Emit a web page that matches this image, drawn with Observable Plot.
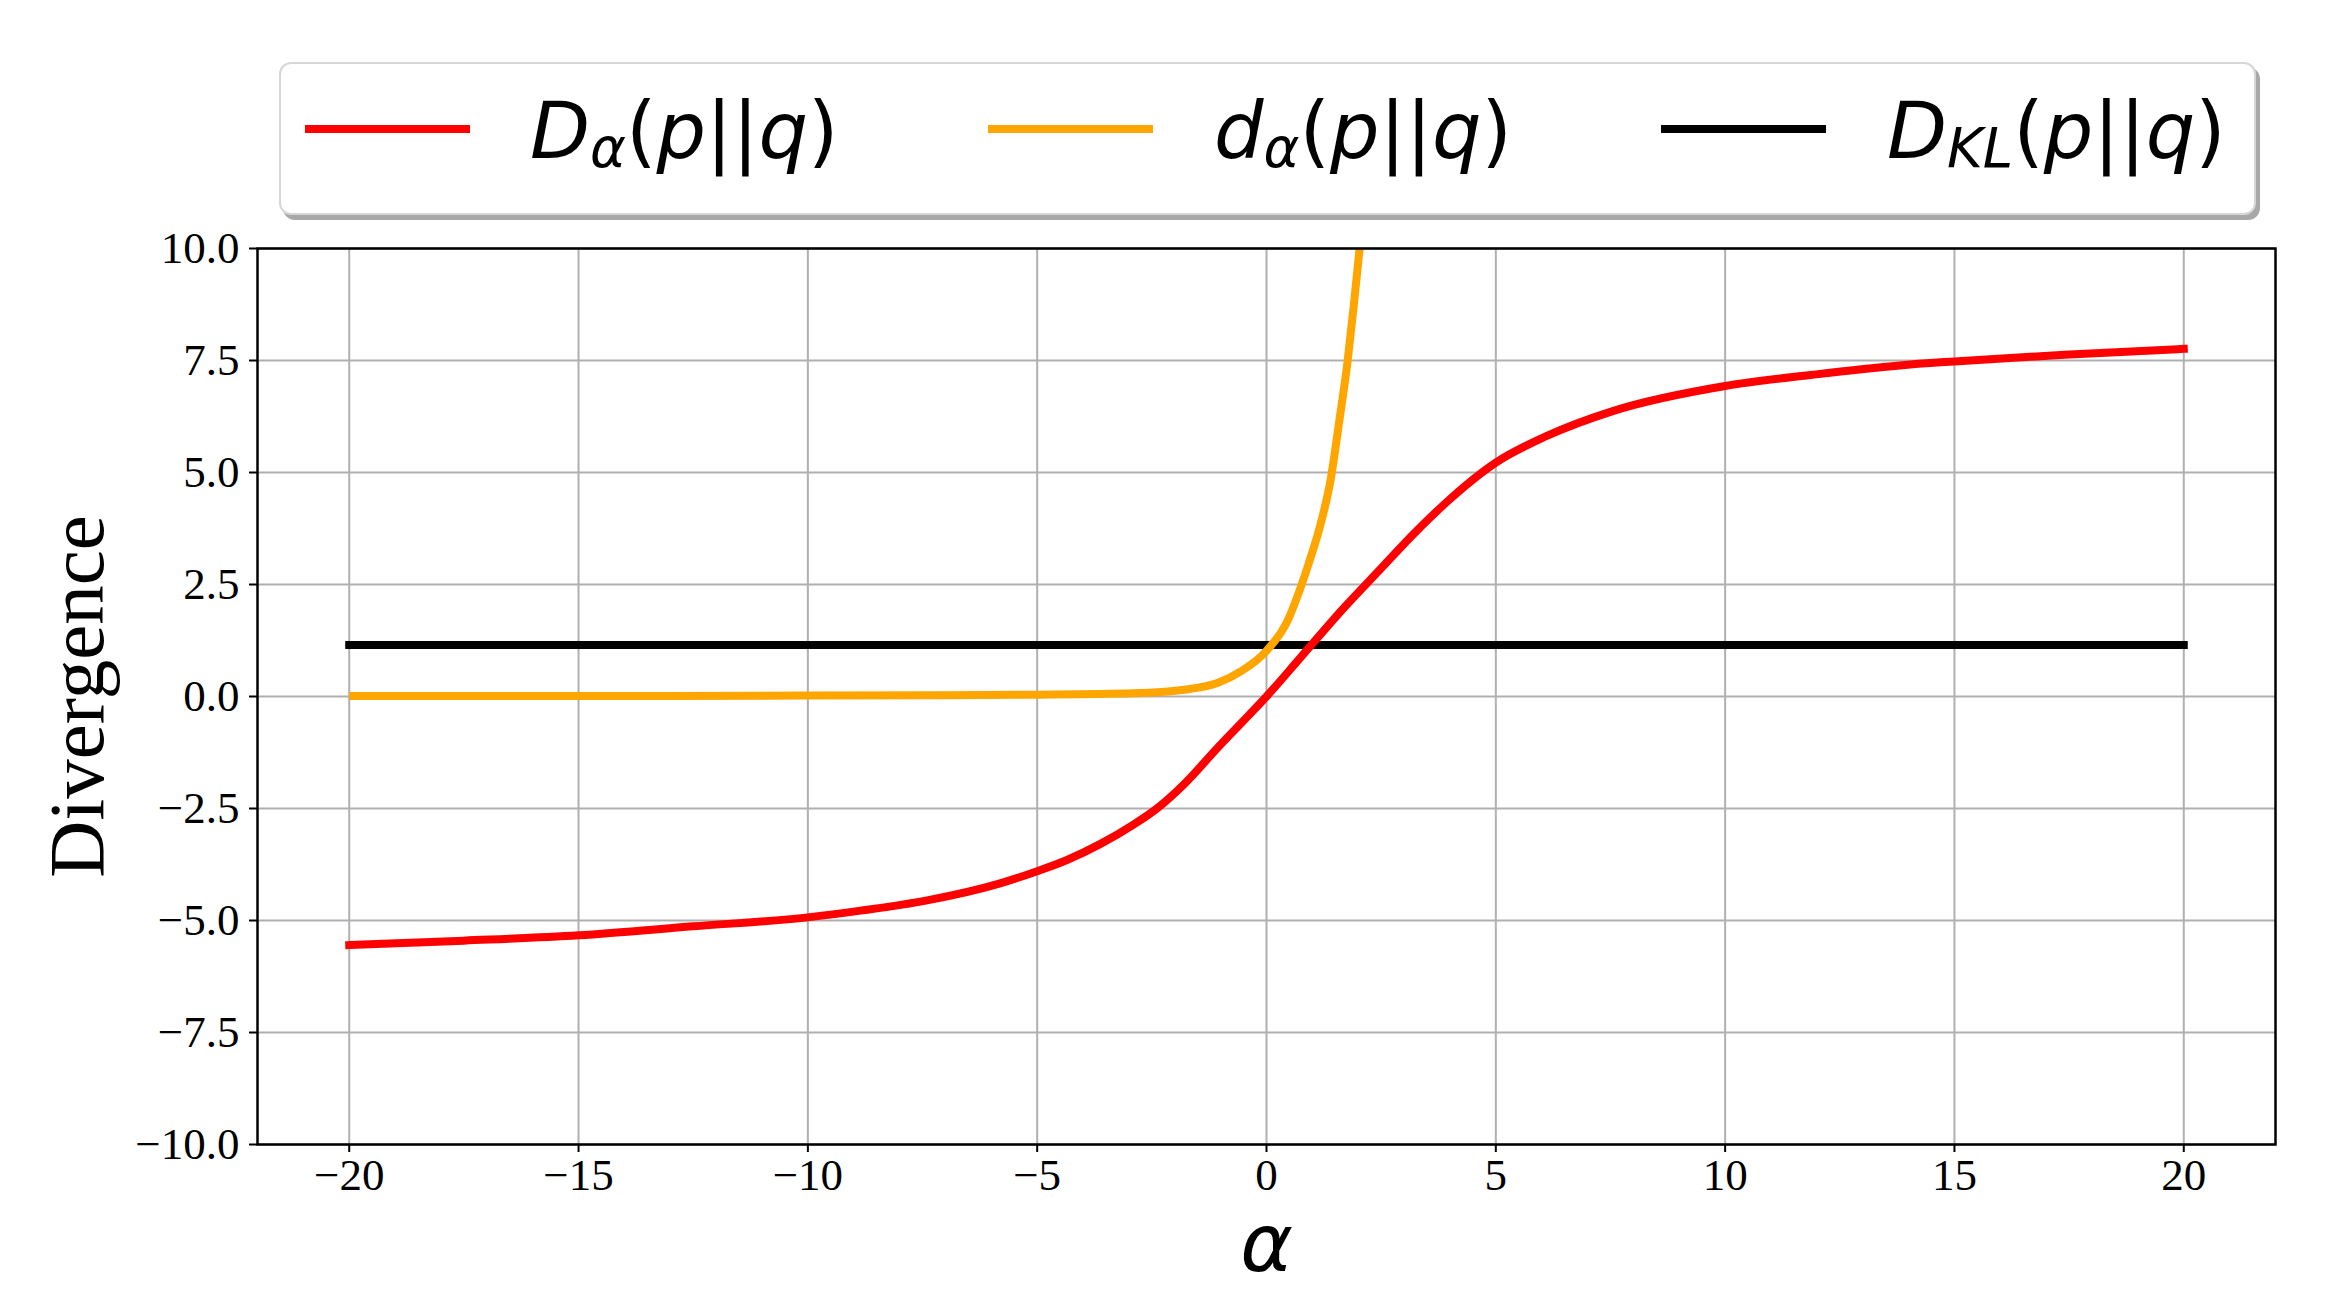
<!DOCTYPE html>
<html>
<head>
<meta charset="utf-8">
<script src="https://cdn.jsdelivr.net/npm/d3@7"></script>
<script src="https://cdn.jsdelivr.net/npm/@observablehq/plot@0.6"></script>
<style>
  html, body { margin: 0; padding: 0; background: #fff; }
  #wrap { width: 2330px; }
  #legend { position: relative; width: 2330px; height: 230px; }
  #legend .box {
    position: absolute; left: 279px; top: 62px; width: 1977px; height: 153px;
    box-sizing: border-box; border: 2px solid #d6d6d6; border-radius: 12px;
    background: #fff; box-shadow: 4px 5px 0 #a8a8a8;
  }
  #legend .swatch { position: absolute; height: 8px; width: 165px; top: 125px; }
  #legend .lab {
    position: absolute; top: 92px; font-family: "DejaVu Sans", sans-serif;
    font-size: 78px; line-height: 1; white-space: nowrap; color: #000;
  }
  #legend .lab i { font-style: italic; }
  #legend .lab .sub { font-size: 0.7em; position: relative; top: 0.17em; font-style: italic; }
  svg { overflow: visible; }
</style>
</head>
<body>
<div id="wrap">
  <div id="legend"><div class="box"></div></div>
  <div id="chart"></div>
</div>
<script>
// Series: D_alpha(p||q) (red)
const alphaD = [-20, -17.5, -15, -12.5, -10, -8.85, -7.4, -5.81, -5, -4.35, -3.62, -2.9, -2.39, -1.8, -1.07, -0.34, 0, 0.75, 1.68, 2.48, 3.21, 3.94, 5, 6.1, 7.55, 10, 11.9, 13.8, 15, 17.4, 20];
const valueD = [-5.55, -5.45, -5.33, -5.13, -4.93, -4.78, -4.55, -4.17, -3.90, -3.65, -3.29, -2.86, -2.50, -1.96, -1.15, -0.37, 0, 0.88, 1.97, 2.84, 3.63, 4.35, 5.22, 5.81, 6.37, 6.93, 7.18, 7.39, 7.48, 7.63, 7.76];

// Series: d_alpha(p||q) (orange)
const alphaS = [-20, -15, -10, -7, -5, -2.9, -1.8, -1.07, -0.56, 0, 0.46, 0.75, 0.93, 1.18, 1.4, 1.58, 1.77, 1.9, 2.03];
const valueS = [0.01, 0.01, 0.02, 0.03, 0.04, 0.07, 0.15, 0.30, 0.56, 1.02, 1.69, 2.45, 3.0, 3.85, 4.85, 6.1, 7.5, 8.7, 10.0];

// Series: D_KL(p||q) (black, constant)
const alphaKL = [-20, 20];
const valueKL = [1.15, 1.15];

// Ticks and labels
const xTicks = [-20, -15, -10, -5, 0, 5, 10, 15, 20];
const yTicks = [-10, -7.5, -5, -2.5, 0, 2.5, 5, 7.5, 10];
const xLabel = "α";
const yLabel = "Divergence";

const seriesColors = ["#ff0000", "#ffa500", "#000000"];

// Legend (HTML, above the SVG)
const legend = document.getElementById("legend");
const swatchLeft = [305, 988, 1661];
const labelLeft = [530, 1214, 1887];
const labelHTML = [
  '<i>D</i><span class="sub">α</span>(<i>p</i>||<i>q</i>)',
  '<i>d</i><span class="sub">α</span>(<i>p</i>||<i>q</i>)',
  '<i>D</i><span class="sub">KL</span>(<i>p</i>||<i>q</i>)'
];
seriesColors.forEach((c, i) => {
  const s = document.createElement("div");
  s.className = "swatch";
  s.style.left = swatchLeft[i] + "px";
  s.style.background = c;
  legend.appendChild(s);
  const t = document.createElement("div");
  t.className = "lab";
  t.style.left = labelLeft[i] + "px";
  t.innerHTML = labelHTML[i];
  legend.appendChild(t);
});

const toRows = (xs, ys) => xs.map((x, i) => ({x, y: ys[i]}));
const rowsD = toRows(alphaD, valueD);
const rowsS = toRows(alphaS, valueS);
const rowsKL = toRows(alphaKL, valueKL);

const serif = "'Liberation Serif', 'Times New Roman', serif";

const chart = Plot.plot({
  width: 2330,
  height: 1067,
  marginLeft: 257,
  marginRight: 55,
  marginTop: 18,
  marginBottom: 153,
  style: {fontFamily: serif, fontSize: "45px", color: "#000", background: "#fff", overflow: "visible"},
  x: {domain: [-22, 22], label: null},
  y: {domain: [-10, 10], label: null},
  marks: [
    Plot.gridX(xTicks, {stroke: "#b0b0b0", strokeOpacity: 1, strokeWidth: 2}),
    Plot.gridY(yTicks, {stroke: "#b0b0b0", strokeOpacity: 1, strokeWidth: 2}),
    Plot.line(rowsKL, {x: "x", y: "y", stroke: seriesColors[2], strokeWidth: 8, strokeLinecap: "square"}),
    Plot.line(rowsS, {x: "x", y: "y", stroke: seriesColors[1], strokeWidth: 8, curve: "monotone-x", strokeLinecap: "butt", clip: true}),
    Plot.line(rowsD, {x: "x", y: "y", stroke: seriesColors[0], strokeWidth: 8, curve: "monotone-x", strokeLinecap: "square"}),
    Plot.frame({stroke: "#000", strokeWidth: 2.5}),
    Plot.axisX(xTicks, {tickFormat: d3.format("d"), tickSize: 8, tickPadding: 6, strokeWidth: 2, fontSize: 45, fontFamily: serif, label: null}),
    Plot.axisY(yTicks, {tickFormat: d3.format(".1f"), tickSize: 8, tickPadding: 10, strokeWidth: 2, fontSize: 45, fontFamily: serif, label: null}),
    Plot.text([yLabel], {text: d => d, frameAnchor: "left", textAnchor: "middle", lineAnchor: "middle", dx: -180, rotate: -90, fontSize: 79, fontFamily: serif, fill: "#000"}),
    Plot.text([xLabel], {text: d => d, frameAnchor: "bottom", lineAnchor: "bottom", dy: 126, fontSize: 80, fontStyle: "italic", fontFamily: "'DejaVu Sans', sans-serif", fill: "#000"})
  ]
});
document.getElementById("chart").appendChild(chart);
</script>
</body>
</html>
